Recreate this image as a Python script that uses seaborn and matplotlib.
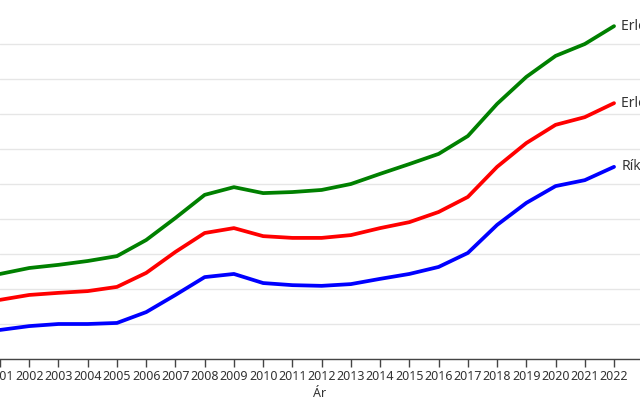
import numpy as np
import pandas as pd
import matplotlib
matplotlib.use("Agg")
import matplotlib.pyplot as plt
import seaborn as sns

years = list(range(2001, 2023))
# (gridline steps of 10)
green = [24.3, 26.0, 26.9, 28.0, 29.4, 34.0, 40.3, 46.9, 49.1, 47.4, 47.7, 48.3,
         50.0, 52.9, 55.7, 58.6, 63.7, 72.9, 80.6, 86.6, 90.0, 95.1]
red = [16.9, 18.3, 18.9, 19.4, 20.6, 24.6, 30.6, 36.0, 37.4, 35.1, 34.6, 34.6,
       35.4, 37.4, 39.1, 42.0, 46.3, 54.9, 61.7, 66.9, 69.1, 73.1]
blue = [8.3, 9.4, 10.0, 10.0, 10.3, 13.4, 18.3, 23.4, 24.3, 21.7, 21.1, 20.9,
        21.4, 22.9, 24.3, 26.3, 30.3, 38.3, 44.6, 49.4, 51.1, 54.9]
names = ["Erlendar skuldir", "Erlendar eignir", "Ríkissjóður"]
colors = ["#008000", "#ff0000", "#0000ff"]

df = pd.DataFrame({
    "Ár": years * 3,
    "gildi": green + red + blue,
    "flokkur": [names[0]] * 22 + [names[1]] * 22 + [names[2]] * 22,
})

sns.set_theme(style="white")
plt.rcParams["font.family"] = ["Noto Sans", "DejaVu Sans"]

fig = plt.figure(figsize=(6.4, 4), dpi=100)
ax = fig.add_axes([0, 41 / 400, 1, 359 / 400])

sns.lineplot(data=df, x="Ár", y="gildi", hue="flokkur", palette=colors,
             linewidth=2.7, legend=False, ax=ax)

for name, vals, c in zip(names, [green, red, blue], colors):
    ax.text(years[-1] + 0.25, vals[-1], name, fontsize=10, color="#333333",
            va="center", ha="left")

ax.set_xlim(2001, 2001 + 640 / 29.24)
ax.set_ylim(0, 359 / 3.5)
ax.set_xticks(years)
ax.set_yticks(range(0, 100, 10))
ax.tick_params(axis="y", left=False, labelleft=False)
ax.tick_params(axis="x", bottom=True, length=6, width=1, color="#444444",
               labelsize=9, labelcolor="#333333", pad=2)
ax.yaxis.grid(True, color="#e6e6e6", linewidth=1)
ax.set_ylabel("")
ax.set_xlabel("Ár", fontsize=9, color="#333333", labelpad=3)
for s in ["left", "top", "right"]:
    ax.spines[s].set_visible(False)
ax.spines["bottom"].set_color("#444444")
ax.spines["bottom"].set_linewidth(1)

fig.savefig("out.png", dpi=100)
